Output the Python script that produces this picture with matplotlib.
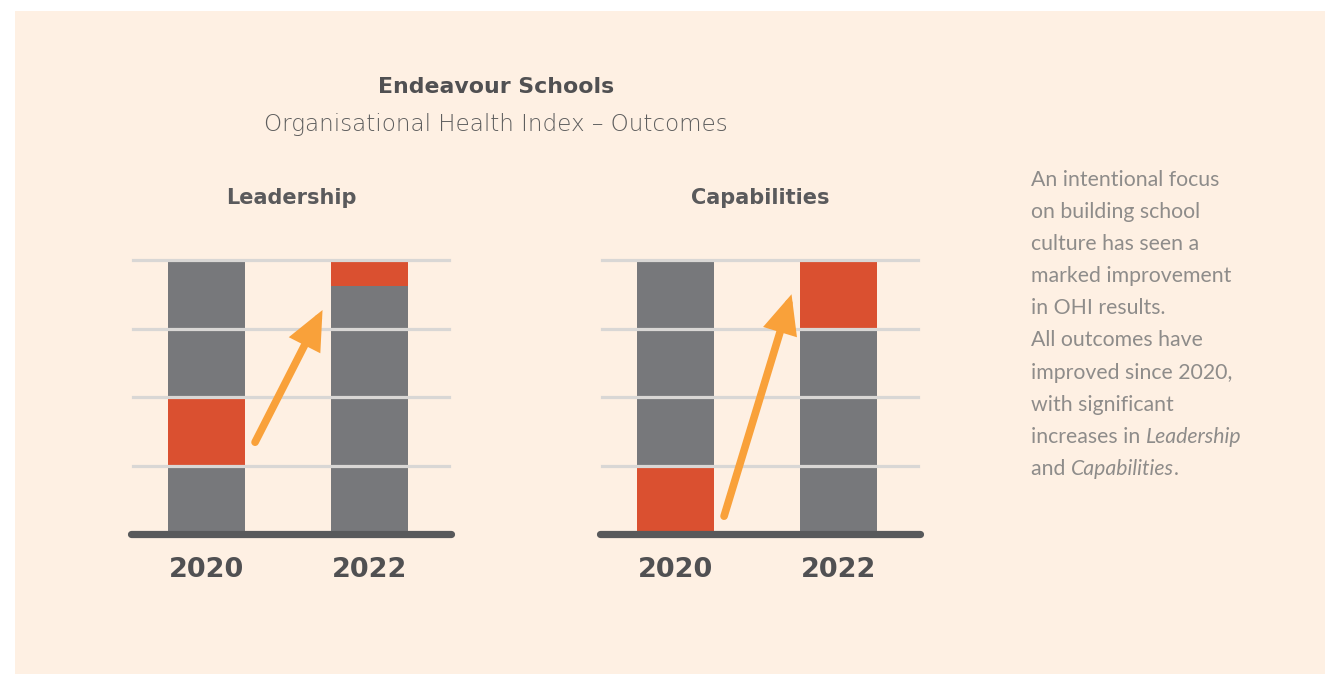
import matplotlib
matplotlib.use("Agg")
import matplotlib.pyplot as plt
from matplotlib.patches import FancyArrowPatch, Rectangle

# ---------------- data ----------------
panels = ["Leadership", "Capabilities"]
years = ["2020", "2022"]
# quartile position of the score (red band): lower / upper edge, in quartiles (0-4)
red_low = {"Leadership": [1.0, 3.62], "Capabilities": [0.0, 3.0]}
red_high = {"Leadership": [2.0, 4.0], "Capabilities": [1.0, 4.0]}
quartiles = [1, 2, 3, 4]
# arrow from 2020 towards 2022 (start / end heights in quartile units)
arrow_y0 = {"Leadership": 1.34, "Capabilities": 0.26}
arrow_y1 = {"Leadership": 3.27, "Capabilities": 3.50}

title = "Endeavour Schools"
subtitle = "Organisational Health Index \u2013 Outcomes"
note_lines = [
    [("An intentional focus", "normal")],
    [("on building school", "normal")],
    [("culture has seen a", "normal")],
    [("marked improvement", "normal")],
    [("in OHI results.", "normal")],
    [("All outcomes have", "normal")],
    [("improved since 2020,", "normal")],
    [("with significant", "normal")],
    [("increases in ", "normal"), ("Leadership", "italic")],
    [("and ", "normal"), ("Capabilities", "italic"), (".", "normal")],
]

# ---------------- style ----------------
W, H = 1325, 674
BG = "#FEF0E3"
GRAY = "#77787B"
RED = "#DA5030"
ORANGE = "#F9A13A"
GRID = "#D9D7D5"
BASE = "#58595B"
DARK = "#505052"
NOTE = "#8E8C8A"

fig = plt.figure(figsize=(W / 100, H / 100), dpi=100)
fig.patch.set_facecolor("white")
fig.add_artist(Rectangle((15 / W, 0), 1 - 15 / W, 1 - 11 / H, transform=fig.transFigure,
                         facecolor=BG, edgecolor="none", zorder=0))


def fx(px):
    return px / W


def fy(py):
    return 1 - py / H


panel_left = [133, 602]  # pixel left of gridlines
axw, top, bottom = 316, 260, 534
xlim = (-0.451, 1.488)
bw = 0.472

for i, name in enumerate(panels):
    ax = fig.add_axes([fx(panel_left[i]), fy(bottom), fx(axw), (bottom - top) / H])
    ax.set_facecolor("none")
    ax.set_xlim(*xlim)
    ax.set_ylim(0, 4)
    for s in ax.spines.values():
        s.set_visible(False)
    ax.set_xticks([])
    ax.set_yticks([])
    xs = list(range(len(years)))
    ax.bar(xs, [4] * len(xs), width=bw, color=GRAY, zorder=2)
    lows = red_low[name]
    highs = red_high[name]
    ax.bar(xs, [h - l for h, l in zip(highs, lows)], bottom=lows, width=bw, color=RED, zorder=3)
    for q in quartiles:
        ax.axhline(q, color=GRID, lw=2.3, zorder=4, clip_on=False)
    # baseline
    ax.plot([xlim[0] - 0.012, xlim[1] + 0.012], [0, 0], color=BASE, lw=5.2,
            solid_capstyle="round", zorder=5, clip_on=False)
    # year labels
    for x, y in zip(xs, years):
        ax.text(x, -0.53, y, ha="center", va="center", fontsize=19.5, fontweight="bold",
                color=DARK, family="DejaVu Sans")
    # panel title
    ax.text(0.52, 4.91, name, ha="center", va="center", fontsize=15, fontweight="bold",
            color="#5A5A5C", family="DejaVu Sans")
    # arrow
    arr = FancyArrowPatch((0.298, arrow_y0[name]), (0.712, arrow_y1[name]),
                          arrowstyle="-|>,head_length=19,head_width=8.5", mutation_scale=1,
                          color=ORANGE, lw=5.5, capstyle="round", joinstyle="miter",
                          shrinkA=0, shrinkB=0, zorder=6)
    ax.add_patch(arr)

fig.text(fx(496), fy(87), title, ha="center", va="center", fontsize=15.8, fontweight="bold",
         color=DARK, family="DejaVu Sans")
fig.text(fx(496), fy(125), subtitle, ha="center", va="center", fontsize=16.6,
         fontweight="light", color="#5E5E5E", family="DejaVu Sans")

# right-hand note
fig.canvas.draw()
renderer = fig.canvas.get_renderer()
x0 = 1031
for k, line in enumerate(note_lines):
    ypix = 180 + k * 32.1
    xpix = x0
    for txt, style in line:
        t = fig.text(fx(xpix), fy(ypix), txt, ha="left", va="center", fontsize=15.3,
                     family="Lato", fontweight="normal", style=style, color=NOTE)
        bb = t.get_window_extent(renderer=renderer)
        xpix += bb.width

fig.savefig("out.png", dpi=100, facecolor="white")
